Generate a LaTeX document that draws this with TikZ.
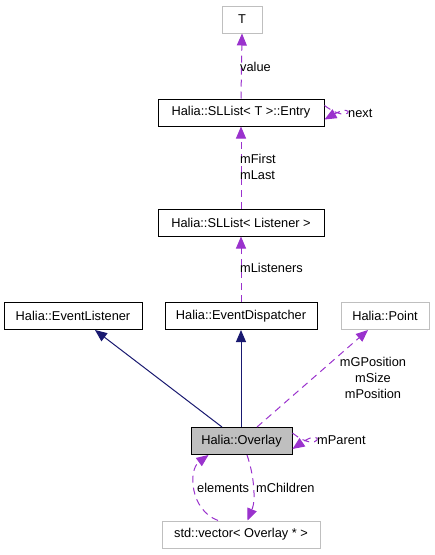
\documentclass[tikz,border=0pt]{standalone}
\usepackage{fontspec}
\setmainfont{Liberation Sans}
\usetikzlibrary{arrows.meta,calc}
\definecolor{dep}{HTML}{9A32CD}
\definecolor{inh}{HTML}{191970}
\definecolor{lgray}{HTML}{BFBFBF}
\tikzset{
  box/.style={draw=black, line width=1pt, minimum height=27pt, inner sep=0pt, font=\fontsize{12.8}{15}\selectfont, fill=white},
  gbox/.style={box, draw=lgray},
  deparrow/.style={draw=dep, dashed, dash pattern=on 7pt off 5pt, line width=1pt, -{Triangle[length=12pt,width=10pt,fill=dep]}},
  inharrow/.style={draw=inh, line width=1pt, -{Triangle[length=12pt,width=10pt,fill=inh]}},
  lbl/.style={font=\fontsize{12.8}{15.7}\selectfont, inner sep=0pt, align=left},
}
\begin{document}
\begin{tikzpicture}[x=1pt,y=-1pt]
\useasboundingbox (0,0) rectangle (435,555);
\node[gbox, minimum width=40pt] (T) at (242,19.5) {T};
\node[box, minimum width=166pt] (entry) at (241,112.5) {Halia::SLList< T >::Entry};
\node[box, minimum width=166pt] (sll) at (241,222.5) {Halia::SLList< Listener >};
\node[box, minimum width=138pt] (el) at (73,316) {Halia::EventListener};
\node[box, minimum width=152pt] (ed) at (241,316) {Halia::EventDispatcher};
\node[gbox, minimum width=88pt] (pt) at (385,316) {Halia::Point};
\node[box, fill=lgray, minimum width=101pt] (ov) at (241.5,441) {Halia::Overlay};
\node[gbox, minimum width=158pt] (vec) at (241,534.5) {std::vector< Overlay * >};

% value
\draw[deparrow] (entry.north) -- (T.south);
\node[lbl, anchor=west] (lvalue) at (240,66.5) {value};
% next self loop
\draw[deparrow] ([yshift=7pt]entry.east) .. controls (352,126) and (356,102) .. ([yshift=-7pt]entry.east);
\node[lbl, anchor=west] (lnext) at (348,113) {next};
% mFirst mLast
\draw[deparrow] (sll.north) -- (entry.south);
\node[lbl, anchor=west] (lfirst) at (240,167) {mFirst\\mLast};
% mListeners
\draw[deparrow] (ed.north) -- (sll.south);
\node[lbl, anchor=west] (llist) at (240,268) {mListeners};
% inheritance
\draw[inharrow] ([xshift=-19.5pt]ov.north) -- ([xshift=22pt]el.south);
\draw[inharrow] ([xshift=-0.5pt]ov.north) -- (ed.south);
% Point
\draw[deparrow] ([xshift=15.5pt]ov.north) -- ([xshift=-17pt]pt.south);
\node[lbl, align=center] (lpos) at (373,378) {mGPosition\\mSize\\mPosition};
% mParent
\draw[deparrow] ([yshift=8pt]ov.east) .. controls (321,456) and (326,426) .. ([yshift=-8pt]ov.east);
\node[lbl, anchor=west] (lparent) at (317,440) {mParent};
% mChildren
\draw[deparrow] ([xshift=5.5pt]ov.south) .. controls (254,475) and (256,500) .. ([xshift=6.5pt]vec.north);
\node[lbl, anchor=west] (lchild) at (256,488) {mChildren};
% elements
\draw[deparrow] ([xshift=-23pt]vec.north) .. controls (190,510) and (188,470) .. ([xshift=-33pt]ov.south);
\node[lbl, anchor=west] (lelem) at (197,488) {elements};
\end{tikzpicture}
\end{document}
